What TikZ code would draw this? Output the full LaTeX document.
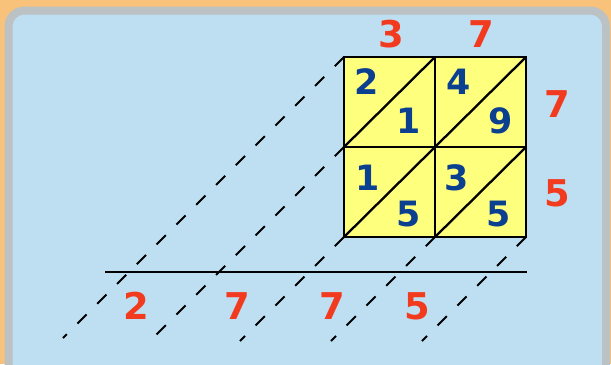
\documentclass[tikz,border=0pt]{standalone}
\usepackage{fontspec}
\setmainfont{DejaVu Sans}
\definecolor{bgorange}{HTML}{F8C27A}
\definecolor{panelgray}{HTML}{BCC1C3}
\definecolor{panelblue}{HTML}{BEDFF2}
\definecolor{cellyellow}{HTML}{FFFF7E}
\definecolor{numblue}{HTML}{0B3F8F}
\definecolor{numred}{HTML}{F23B1E}
\tikzset{
  gridline/.style={line width=2.3bp, black},
  dashline/.style={line width=2bp, black, dash pattern=on 13bp off 15bp},
  bluenum/.style={text=numblue, font=\fontsize{35}{35}\selectfont\bfseries, inner sep=0pt},
  rednum/.style={text=numred, font=\fontsize{37}{37}\selectfont\bfseries, inner sep=0pt},
}
\begin{document}
\begin{tikzpicture}[x=1bp,y=-1bp]
\useasboundingbox (0,0) rectangle (611,364);
\fill[bgorange] (0,0) rectangle (611,364);
\draw[panelgray, line width=8bp, fill=panelblue, rounded corners=16bp] (8.5,10.5) rectangle (606,380);

% grid corners
\coordinate (g00) at (344,57);
\coordinate (g10) at (435,57);
\coordinate (g20) at (526,57);
\coordinate (g01) at (344,147);
\coordinate (g11) at (435,147);
\coordinate (g21) at (526,147);
\coordinate (g02) at (344,237);
\coordinate (g12) at (435,237);
\coordinate (g22) at (526,237);

% dashed line ends
\coordinate (e1) at (63,338);
\coordinate (e2) at (148,343);
\coordinate (e3) at (240,341);
\coordinate (e4) at (331,341);
\coordinate (e5) at (422,341);

% horizontal line ends
\coordinate (h1) at (105,272);
\coordinate (h2) at (527,272);

% dashed extensions
\draw[dashline] (g00) -- (e1);
\draw[dashline] (g01) -- (e2);
\draw[dashline] (g02) -- (e3);
\draw[dashline] (g12) -- (e4);
\draw[dashline] (g22) -- (e5);

% grid
\fill[cellyellow] (g00) rectangle (g22);
\draw[gridline] (g00) rectangle (g22);
\draw[gridline] (g10) -- (g12);
\draw[gridline] (g01) -- (g21);
\draw[gridline] (g01) -- (g10);
\draw[gridline] (g02) -- (g20);
\draw[gridline] (g12) -- (g21);

% result line
\draw[line width=2.6bp, black] (h1) -- (h2);

% blue numbers
\node[bluenum] (a1) at (367,82) {2};
\node[bluenum] (a2) at (409,121) {1};
\node[bluenum] (a3) at (459,82) {4};
\node[bluenum] (a4) at (501,121) {9};
\node[bluenum] (a5) at (368,178) {1};
\node[bluenum] (a6) at (409,214) {5};
\node[bluenum] (a7) at (457,178) {3};
\node[bluenum] (a8) at (499,214) {5};

% red numbers
\node[rednum] (t1) at (391,34) {3};
\node[rednum] (t2) at (481,34) {7};
\node[rednum] (r1) at (557,104) {7};
\node[rednum] (r2) at (557,193) {5};
\node[rednum] (b1) at (136,306) {2};
\node[rednum] (b2) at (237,306) {7};
\node[rednum] (b3) at (332,306) {7};
\node[rednum] (b4) at (417,306) {5};
\end{tikzpicture}
\end{document}
